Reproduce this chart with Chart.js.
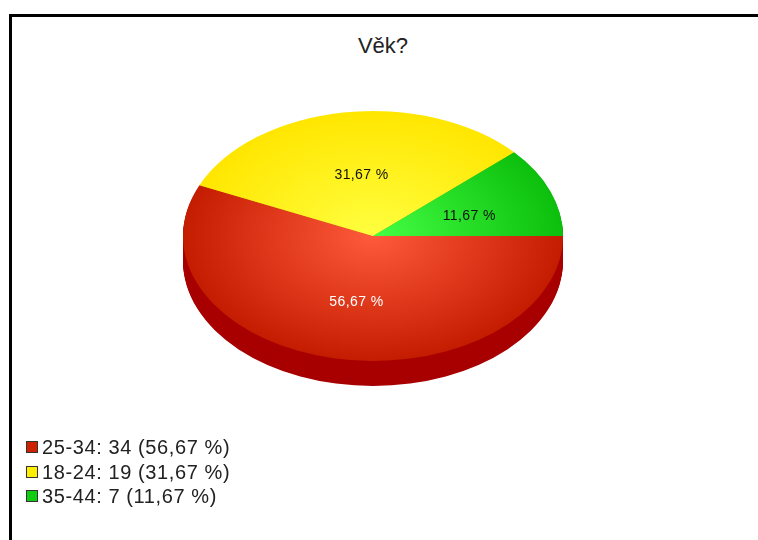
<!DOCTYPE html>
<html>
<head>
<meta charset="utf-8">
<script src="https://cdn.jsdelivr.net/npm/chart.js@4/dist/chart.umd.min.js"></script>
<style>
  html, body { margin: 0; padding: 0; background: #fff; }
  #wrap { position: relative; width: 758px; height: 540px; overflow: hidden; font-family: "Liberation Sans", Arial, sans-serif; }
  #frame { position: absolute; left: 9px; top: 14px; width: 800px; height: 600px; border: 3px solid #000; box-sizing: border-box; }
  #title { position: absolute; left: 0; width: 766px; top: 33px; text-align: center; font-size: 22px; color: #222; }
  #chartBox { position: absolute; left: 0; top: 0; width: 758px; height: 540px; }
  #legend { position: absolute; left: 26px; top: 435px; margin: 0; padding: 0; list-style: none; font-size: 20px; color: #222; }
  #legend li { height: 24.5px; line-height: 24.5px; display: flex; align-items: center; letter-spacing: 0.6px; }
  #legend .box { width: 10px; height: 10px; border: 1px solid #333; margin-right: 4px; }
</style>
</head>
<body>
<div id="wrap">
  <div id="frame"></div>
  <div id="title">Věk?</div>
  <div id="chartBox"><canvas id="chart"></canvas></div>
  <ul id="legend"></ul>
</div>
<script>
const labels = ["25-34", "18-24", "35-44"];
const counts = [34, 19, 7];
const percents = ["56,67 %", "31,67 %", "11,67 %"];

const colors = ["#cc2200", "#ffee00", "#11cc11"];
const innerColors = ["#ff5a3c", "#ffff40", "#44ff44"];
const outerColors = ["#c41c00", "#ffe600", "#0cbf0c"];
const sideColors = ["#a80000", "#c8a800", "#0a8a0a"];
const labelColors = ["#ffffff", "#111111", "#111111"];

const squash = 125 / 190;   // ellipse height / width
const depth = 25;           // thickness of the pie

function ellipse(ctx, cx, cy) {
  ctx.translate(cx, cy);
  ctx.scale(1, squash);
  ctx.translate(-cx, -cy);
}

const pie3d = {
  id: "pie3d",
  beforeDatasetsDraw(chart) {
    const ctx = chart.ctx;
    const arcs = chart.getDatasetMeta(0).data;
    // side wall
    for (let d = depth; d >= 1; d--) {
      arcs.forEach((a, i) => {
        ctx.save();
        ctx.translate(0, d);
        ellipse(ctx, a.x, a.y);
        ctx.beginPath();
        ctx.moveTo(a.x, a.y);
        ctx.arc(a.x, a.y, a.outerRadius, a.startAngle, a.endAngle);
        ctx.closePath();
        ctx.fillStyle = sideColors[i];
        ctx.fill();
        ctx.restore();
      });
    }
    ctx.save();
    const a0 = arcs[0];
    ellipse(ctx, a0.x, a0.y);
  },
  afterDatasetsDraw(chart) {
    const ctx = chart.ctx;
    ctx.restore();
    const arcs = chart.getDatasetMeta(0).data;
    ctx.save();
    ctx.font = "14px 'Liberation Sans', Arial, sans-serif";
    ctx.letterSpacing = "0.4px";
    ctx.textAlign = "center";
    ctx.textBaseline = "middle";
    arcs.forEach((a, i) => {
      const mid = (a.startAngle + a.endAngle) / 2;
      const r = a.outerRadius * 0.52;
      const x = a.x + Math.cos(mid) * r + 4;
      const y = a.y + Math.sin(mid) * r * squash + 3;
      ctx.fillStyle = labelColors[i];
      ctx.fillText(percents[i], x, y);
    });
    ctx.restore();
  }
};

function fill(context) {
  const i = context.dataIndex;
  const area = context.chart.chartArea;
  if (!area) return colors[i];
  const cx = (area.left + area.right) / 2;
  const cy = (area.top + area.bottom) / 2;
  const r = Math.min(area.right - area.left, area.bottom - area.top) / 2;
  const g = context.chart.ctx.createRadialGradient(cx, cy, 0, cx, cy, r);
  g.addColorStop(0, innerColors[i]);
  g.addColorStop(1, outerColors[i]);
  return g;
}

new Chart(document.getElementById("chart"), {
  type: "pie",
  data: {
    labels: labels,
    datasets: [{
      data: counts,
      backgroundColor: fill,
      borderWidth: 0,
      clip: false
    }]
  },
  options: {
    responsive: true,
    maintainAspectRatio: false,
    animation: false,
    rotation: 90,
    layout: { padding: { left: 183, right: 195, top: 46, bottom: 114 } },
    plugins: {
      legend: { display: false },
      title: { display: false },
      tooltip: { enabled: false }
    }
  },
  plugins: [pie3d]
});

const ul = document.getElementById("legend");
labels.forEach((l, i) => {
  const li = document.createElement("li");
  li.innerHTML = `<span class="box" style="background:${colors[i]}"></span>${l}: ${counts[i]} (${percents[i]})`;
  ul.appendChild(li);
});
</script>
</body>
</html>
